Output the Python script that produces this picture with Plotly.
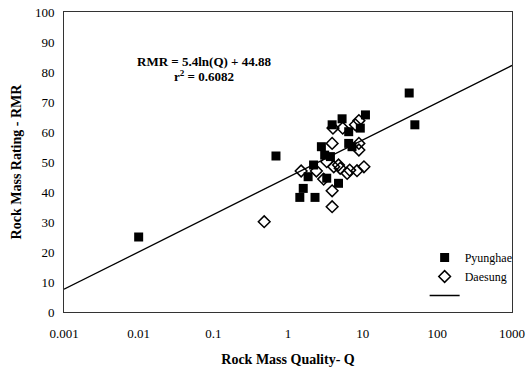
import numpy as np
import plotly.graph_objects as go

# Pyunghae (filled squares)
pyunghae_q = [0.01, 0.69, 5.3, 10.9, 3.9, 6.5, 9.3, 50, 42, 2.8, 6.5, 7.2, 3.1, 3.7,
              2.2, 1.86, 3.3, 4.75, 1.6, 1.44, 2.3]
pyunghae_rmr = [25, 52, 64.4, 65.7, 62.4, 60.1, 61.3, 62.4, 73, 55.1, 56.2, 55.1, 52.3, 51.8,
                49, 45.1, 44.6, 42.9, 41.2, 38.2, 38.2]

# Daesung (open diamonds)
daesung_q = [4.0, 5.4, 8.0, 8.9, 3.9, 8.9, 8.9, 1.5, 2.4, 3.3, 4.1, 4.75, 5.0, 6.2,
             6.7, 8.4, 10.4, 3.0, 3.9, 3.9, 0.48]
daesung_rmr = [61.3, 61.3, 62.4, 63.8, 56.2, 56.2, 54, 47, 47, 50.1, 48.4, 49, 47.9, 46.2,
               47.3, 47.1, 48.4, 44.3, 40.4, 35.1, 30.1]

# Regression: RMR = 5.4 ln(Q) + 44.88
fit_slope = 5.4
fit_intercept = 44.88
fit_q = [0.001, 1000]
fit_rmr = [fit_slope * np.log(q) + fit_intercept for q in fit_q]

x_tickvals = [0.001, 0.01, 0.1, 1, 10, 100, 1000]
x_ticktext = ["0.001", "0.01", "0.1", "1", "10", "100", "1000"]
y_tickvals = list(range(0, 101, 10))

FONT = "Liberation Serif"

fig = go.Figure()
fig.add_trace(go.Scatter(
    x=pyunghae_q, y=pyunghae_rmr, mode="markers", name="Pyunghae",
    marker=dict(symbol="square", size=9, color="black"),
))
fig.add_trace(go.Scatter(
    x=daesung_q, y=daesung_rmr, mode="markers", name="Daesung",
    marker=dict(symbol="diamond-open", size=9, color="black", line=dict(width=1.5)),
))
fig.add_trace(go.Scatter(
    x=fit_q, y=fit_rmr, mode="lines", name=" ",
    line=dict(color="black", width=1.3),
))

ann_x = np.log10(0.075)
fig.add_annotation(
    x=ann_x, y=83.4, xref="x", yref="y", showarrow=False,
    text="<b>RMR = 5.4ln(Q) + 44.88</b>",
    font=dict(family=FONT, size=13, color="black"),
)
fig.add_annotation(
    x=ann_x, y=78.6, xref="x", yref="y", showarrow=False,
    text="<b>r<sup>2</sup> = 0.6082</b>",
    font=dict(family=FONT, size=13, color="black"),
)

fig.update_xaxes(
    type="log", range=[-3, 3], tickvals=x_tickvals, ticktext=x_ticktext,
    showgrid=False, zeroline=False, showline=True, linecolor="#333", linewidth=1,
    mirror=True, ticks="", ticklabelstandoff=9, automargin=False,
    tickfont=dict(family=FONT, size=13, color="black"),
    title=dict(text="<b>Rock Mass Quality- Q</b>", font=dict(family=FONT, size=14, color="black"),
               standoff=14),
)
fig.update_yaxes(
    range=[0, 100], tickvals=y_tickvals,
    showgrid=False, zeroline=False, showline=True, linecolor="#333", linewidth=1,
    mirror=True, ticks="", ticklabelstandoff=6, automargin=False,
    tickfont=dict(family=FONT, size=13, color="black"),
    title=dict(text="<b>Rock Mass Rating - RMR</b>", font=dict(family=FONT, size=14, color="black"),
               standoff=10),
)

fig.update_layout(
    width=526, height=372,
    margin=dict(l=64, r=14, t=12, b=60, autoexpand=False),
    paper_bgcolor="white", plot_bgcolor="white",
    showlegend=True,
    legend=dict(x=0.805, y=0.23, xanchor="left", yanchor="top",
                bgcolor="rgba(0,0,0,0)", font=dict(family=FONT, size=12, color="black"),
                tracegroupgap=0, itemwidth=30),
)

fig.write_html("out.html")
